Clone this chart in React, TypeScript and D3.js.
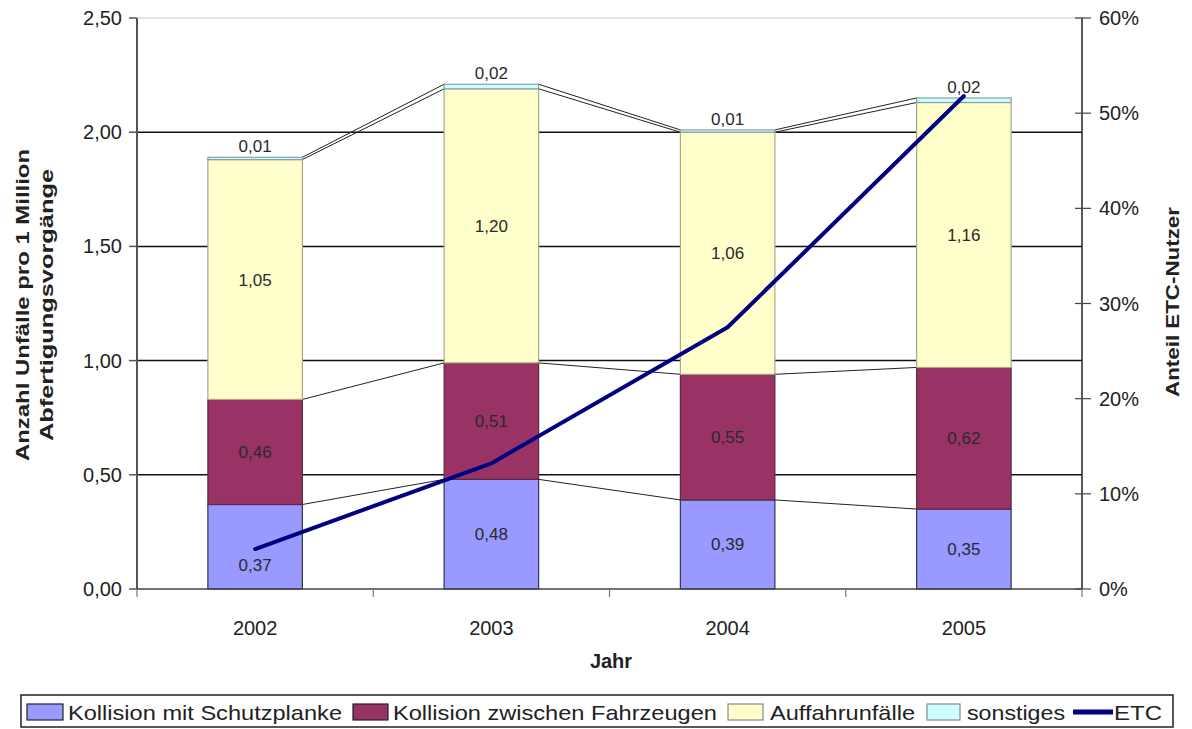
import React from "react";
import * as d3 from "d3";

const years = ["2002", "2003", "2004", "2005"];
const schutzplanke = [0.37, 0.48, 0.39, 0.35];
const fahrzeuge = [0.46, 0.51, 0.55, 0.62];
const auffahr = [1.05, 1.2, 1.06, 1.16];
const sonstiges = [0.01, 0.02, 0.01, 0.02];
const etc = [0.042, 0.132, 0.275, 0.518];
const leftTicks = [0, 0.5, 1, 1.5, 2, 2.5];
const rightTicks = [0, 0.1, 0.2, 0.3, 0.4, 0.5, 0.6];
const seriesNames = ["Kollision mit Schutzplanke", "Kollision zwischen Fahrzeugen", "Auffahrunfälle", "sonstiges"];

const W = 1192, H = 729;
const L = 137, R = 1082, T = 18, B = 589;
const FONT = "Liberation Sans, Arial, sans-serif";

const fills = ["#9999ff", "#993366", "#ffffcc", "#ccffff"];
const strokes = ["#33334d", "#5a2a40", "#a8a888", "#8aa0a8"];

export default function App() {
  const x = d3.scaleBand<string>().domain(years).range([L, R]).paddingInner(0.6).paddingOuter(0.3);
  const y = d3.scaleLinear().domain([0, 2.5]).range([B, T]);
  const y2 = d3.scaleLinear().domain([0, 0.6]).range([B, T]);
  const series = [schutzplanke, fahrzeuge, auffahr, sonstiges];
  const stackData = years.map((yr, i) => ({ yr, s0: schutzplanke[i], s1: fahrzeuge[i], s2: auffahr[i], s3: sonstiges[i] }));
  const stack = d3.stack<any>().keys(["s0", "s1", "s2", "s3"])(stackData);
  const bw = x.bandwidth();
  const step = x.step();
  const fmt = (v: number) => v.toFixed(2).replace(".", ",");
  const pct = (v: number) => Math.round(v * 100) + "%";
  const etcLine = d3.line<number>().x((_, i) => (x(years[i]) as number) + bw / 2).y((d) => y2(d));

  const legItems = [
    { sx: 27, sw: 36, tx: 68, tw: 274 },
    { sx: 353, sw: 35, tx: 393, tw: 324 },
    { sx: 728, sw: 35, tx: 770, tw: 145 },
    { sx: 927, sw: 33, tx: 967, tw: 98 },
  ];

  return (
    <svg width={W} height={H} style={{ position: "absolute", left: 0, top: 0, background: "#fff" }} fontFamily={FONT}>
      <rect x={0} y={0} width={W} height={H} fill="#fff" />
      <line x1={L} x2={R} y1={y(2.5)} y2={y(2.5)} stroke="#c8c8c8" strokeWidth={1} />
      {leftTicks.filter((t) => t > 0 && t < 2.5).map((t) => (
        <line key={t} x1={L} x2={R} y1={y(t)} y2={y(t)} stroke="#111" strokeWidth={1.5} />
      ))}
      {stack.map((layer, li) =>
        years.slice(0, -1).map((yr, i) => {
          const x1 = (x(yr) as number) + bw;
          const x2 = x(years[i + 1]) as number;
          return (
            <line key={li + "-" + i} x1={x1} x2={x2} y1={y(layer[i][1])} y2={y(layer[i + 1][1])} stroke="#222" strokeWidth={1} />
          );
        })
      )}
      {stack.map((layer, li) =>
        layer.map((d, i) => (
          <rect key={li + "-" + i} x={x(years[i]) as number} y={y(d[1])} width={bw} height={y(d[0]) - y(d[1])}
            fill={fills[li]} stroke={strokes[li]} strokeWidth={1.2} />
        ))
      )}
      {stack.slice(0, 3).map((layer, li) =>
        layer.map((d, i) => {
          const cx = (x(years[i]) as number) + bw / 2;
          let cy = (y(d[0]) + y(d[1])) / 2;
          if (li === 0 && i === 0) cy += 18;
          return (
            <text key={li + "-" + i} x={cx} y={cy + 6} textAnchor="middle" fontSize={17} fill="#2a2a2a">
              {fmt(series[li][i])}
            </text>
          );
        })
      )}
      {stack[3].map((d, i) => (
        <text key={"s" + i} x={(x(years[i]) as number) + bw / 2} y={y(d[1]) - 5} textAnchor="middle" fontSize={17} fill="#2a2a2a">
          {fmt(sonstiges[i])}
        </text>
      ))}
      <path d={etcLine(etc) as string} fill="none" stroke="#000080" strokeWidth={4} strokeLinejoin="round" strokeLinecap="round" />
      <line x1={L} x2={L} y1={T} y2={B} stroke="#555" strokeWidth={2} />
      {leftTicks.map((t) => (
        <g key={t}>
          <line x1={L - 8} x2={L} y1={y(t)} y2={y(t)} stroke="#555" strokeWidth={1.5} />
          <text x={L - 15} y={y(t) + 7} textAnchor="end" fontSize={20} fill="#222">{fmt(t)}</text>
        </g>
      ))}
      <line x1={R} x2={R} y1={T} y2={B} stroke="#222" strokeWidth={1.5} />
      {rightTicks.map((t) => (
        <g key={t}>
          <line x1={R - 7} x2={R + 9} y1={y2(t)} y2={y2(t)} stroke="#444" strokeWidth={1.2} />
          <text x={R + 17} y={y2(t) + 7} textAnchor="start" fontSize={20} fill="#222">{pct(t)}</text>
        </g>
      ))}
      <line x1={L} x2={R} y1={B} y2={B} stroke="#444" strokeWidth={1.5} />
      {d3.range(years.length + 1).map((k) => (
        <line key={k} x1={L + k * step} x2={L + k * step} y1={B} y2={B + 8} stroke="#777" strokeWidth={1.2} />
      ))}
      {years.map((yr) => (
        <text key={yr} x={(x(yr) as number) + bw / 2} y={635} textAnchor="middle" fontSize={20} fill="#222">{yr}</text>
      ))}
      <text x={611} y={668} textAnchor="middle" fontSize={20} fontWeight="bold" fill="#222">Jahr</text>
      <g transform="translate(29,305) rotate(-90)">
        <text x={0} y={0} textAnchor="middle" fontSize={19} fontWeight="bold" fill="#222" textLength={312} lengthAdjust="spacingAndGlyphs">Anzahl Unfälle pro 1 Million</text>
        <text x={0} y={24} textAnchor="middle" fontSize={19} fontWeight="bold" fill="#222" textLength={272} lengthAdjust="spacingAndGlyphs">Abfertigungsvorgänge</text>
      </g>
      <g transform="translate(1179,302) rotate(-90)">
        <text x={0} y={0} textAnchor="middle" fontSize={19} fontWeight="bold" fill="#222" textLength={190} lengthAdjust="spacingAndGlyphs">Anteil ETC-Nutzer</text>
      </g>
      <rect x={21} y={695} width={1152} height={32} fill="#fff" stroke="#222" strokeWidth={1.5} />
      {legItems.map((it, i) => (
        <g key={i}>
          <rect x={it.sx} y={704} width={it.sw} height={16} fill={fills[i]} stroke={i < 2 ? "#222" : "#888"} strokeWidth={1.2} />
          <text x={it.tx} y={720} fontSize={21} fill="#222" textLength={it.tw} lengthAdjust="spacingAndGlyphs">{seriesNames[i]}</text>
        </g>
      ))}
      <line x1={1073} x2={1113} y1={712} y2={712} stroke="#000080" strokeWidth={5} />
      <text x={1114} y={720} fontSize={21} fill="#222" textLength={48} lengthAdjust="spacingAndGlyphs">ETC</text>
    </svg>
  );
}
